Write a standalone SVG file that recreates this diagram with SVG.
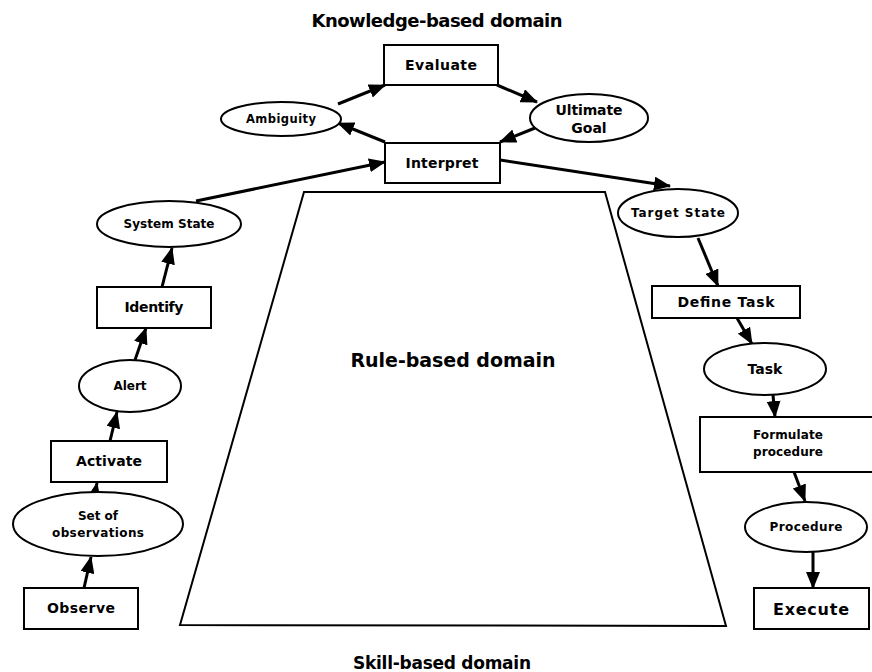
<svg xmlns="http://www.w3.org/2000/svg" width="872" height="672" viewBox="0 0 872 672">
<style>
.box{fill:#fff;stroke:#000;stroke-width:2}
.ell{fill:#fff;stroke:#000;stroke-width:2}
.t{font-family:"DejaVu Sans",Verdana,sans-serif;font-weight:bold;fill:#000;text-anchor:middle}
.s{font-size:12px}
.m{font-size:14px}
.c{stroke:#000;stroke-width:3;fill:none;marker-end:url(#ah)}
.trap{fill:#fff;stroke:#000;stroke-width:2}
</style>
<defs>
<marker id="ah" markerUnits="userSpaceOnUse" markerWidth="17" markerHeight="14" viewBox="0 0 17 14" refX="16" refY="7" orient="auto">
<path d="M0,0 L17,7 L0,14 z" fill="#000"/>
</marker>
</defs>
<rect width="872" height="672" fill="#fff"/>
<g id="domains">
<text class="t" x="437" y="27" style="font-size:18px" textLength="251">Knowledge-based domain</text>
<polygon class="trap" points="304,192 605,192 726,626 180,625"/>
<text class="t" x="453" y="367" style="font-size:19px" textLength="205">Rule-based domain</text>
<text class="t" x="442" y="669" style="font-size:17px" textLength="178">Skill-based domain</text>
</g>
<g id="connectors">
<line class="c" x1="84" y1="588" x2="91" y2="557"/>
<line class="c" x1="95" y1="493" x2="97" y2="483"/>
<line class="c" x1="110" y1="441" x2="117" y2="412"/>
<line class="c" x1="135" y1="360" x2="146" y2="328"/>
<line class="c" x1="162" y1="287" x2="172" y2="248"/>
<line class="c" x1="196" y1="201" x2="385" y2="162"/>
<line class="c" x1="385" y1="142" x2="338" y2="123"/>
<line class="c" x1="338" y1="104" x2="385" y2="85"/>
<line class="c" x1="497" y1="85" x2="537" y2="102"/>
<line class="c" x1="535" y1="128" x2="500" y2="142"/>
<line class="c" x1="500" y1="160" x2="670" y2="186"/>
<line class="c" x1="698" y1="238" x2="718" y2="286"/>
<line class="c" x1="737" y1="318" x2="752" y2="344"/>
<line class="c" x1="773" y1="395" x2="775" y2="417"/>
<line class="c" x1="794" y1="472" x2="805" y2="501"/>
<line class="c" x1="813" y1="552" x2="813" y2="588"/>
</g>
<g id="evaluate"><rect class="box" x="384" y="45" width="114" height="40"/><text class="t m" x="441" y="70" textLength="72">Evaluate</text></g>
<g id="ambiguity"><ellipse class="ell" cx="281" cy="119" rx="60" ry="17"/><text class="t" x="281" y="123" style="font-size:11.5px" textLength="70">Ambiguity</text></g>
<g id="ultimate-goal"><ellipse class="ell" cx="589" cy="118" rx="59" ry="24"/><text class="t m" x="589" y="115" textLength="67">Ultimate</text><text class="t m" x="589" y="133">Goal</text></g>
<g id="interpret"><rect class="box" x="385" y="143" width="115" height="40"/><text class="t m" x="442" y="168" textLength="73">Interpret</text></g>
<g id="system-state"><ellipse class="ell" cx="169" cy="224" rx="72" ry="23"/><text class="t s" x="169" y="228" textLength="91">System State</text></g>
<g id="identify"><rect class="box" x="97" y="287" width="114" height="41"/><text class="t m" x="154" y="312" textLength="59">Identify</text></g>
<g id="alert"><ellipse class="ell" cx="130" cy="386" rx="51" ry="26"/><text class="t s" x="130" y="390">Alert</text></g>
<g id="activate"><rect class="box" x="51" y="441" width="116" height="41"/><text class="t m" x="109" y="466" textLength="66">Activate</text></g>
<g id="set-of-observations"><ellipse class="ell" cx="98" cy="524" rx="85" ry="32"/><text class="t s" x="98" y="520">Set of</text><text class="t s" x="98" y="537" textLength="92">observations</text></g>
<g id="observe"><rect class="box" x="24" y="588" width="114" height="41"/><text class="t m" x="81" y="613" textLength="68">Observe</text></g>
<g id="target-state"><ellipse class="ell" cx="678" cy="213" rx="60" ry="24"/><text class="t s" x="678" y="217" textLength="94">Target State</text></g>
<g id="define-task"><rect class="box" x="652" y="286" width="148" height="32"/><text class="t m" x="726" y="307" textLength="97">Define Task</text></g>
<g id="task"><ellipse class="ell" cx="765" cy="369" rx="61" ry="26"/><text class="t m" x="765" y="374">Task</text></g>
<g id="formulate-procedure"><rect class="box" x="700" y="417" width="180" height="55"/><text class="t s" x="753" y="439" style="text-anchor:start" textLength="70">Formulate</text><text class="t s" x="753" y="456" style="text-anchor:start" textLength="70">procedure</text></g>
<g id="procedure"><ellipse class="ell" cx="806" cy="527" rx="61" ry="25"/><text class="t s" x="806" y="531" textLength="73">Procedure</text></g>
<g id="execute"><rect class="box" x="754" y="588" width="115" height="41"/><text class="t" x="811" y="615" style="font-size:16px" textLength="76">Execute</text></g>
</svg>
